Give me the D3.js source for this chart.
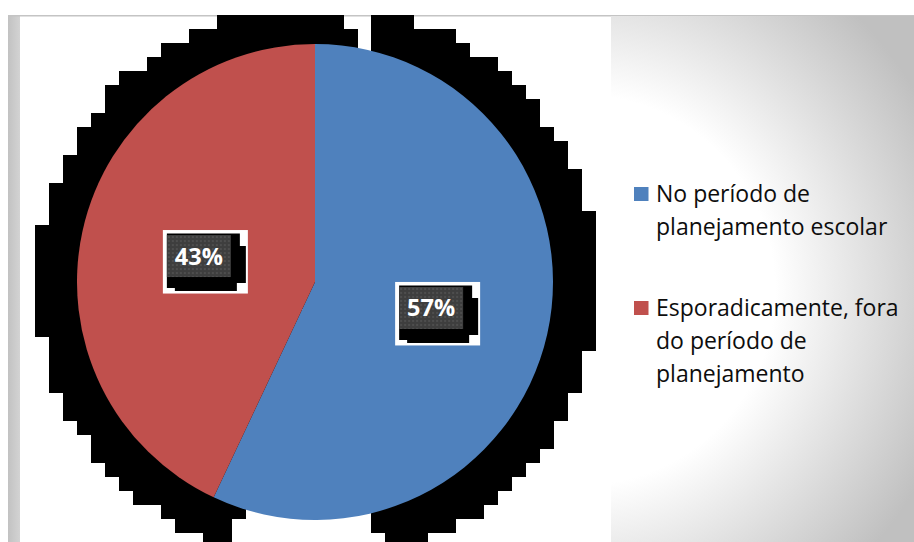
<!DOCTYPE html>
<html>
<head>
<meta charset="utf-8">
<script src="https://cdn.jsdelivr.net/npm/d3@7"></script>
<style>
  html, body { margin: 0; padding: 0; background: #ffffff; }
  svg { display: block; }
</style>
</head>
<body>
<div id="chart"></div>
<script>
// Pie data
const categories = ["No período de planejamento escolar", "Esporadicamente, fora do período de planejamento"];
const values = [57, 43];
const sliceColors = ["#4F81BD", "#C0504D"];
const legendLines = [["No período de", "planejamento escolar"], ["Esporadicamente, fora", "do período de", "planejamento"]];

// Blocky drop shadow: angular gaps (degrees clockwise from 12 o'clock)
const shadowGaps = [
  { from: 9, to: 13, minR: 0 },
  { from: 7, to: 9, minR: 255 },
  { from: 166, to: 198, minR: 0 }
];

const W = 914, H = 542;
const cx = 315, cy = 282, radius = 238;

const svg = d3.select("#chart").append("svg")
  .attr("width", W).attr("height", H);

const defs = svg.append("defs");

const panelGrad = defs.append("radialGradient")
  .attr("id", "panelGrad").attr("gradientUnits", "userSpaceOnUse")
  .attr("cx", 580).attr("cy", 290).attr("r", 390);
panelGrad.append("stop").attr("offset", 0).attr("stop-color", "#ffffff");
panelGrad.append("stop").attr("offset", 0.5).attr("stop-color", "#ffffff");
panelGrad.append("stop").attr("offset", 1).attr("stop-color", "#c0c0c0");

const stripGrad = defs.append("linearGradient")
  .attr("id", "stripGrad").attr("x1", 0).attr("x2", 1).attr("y1", 0).attr("y2", 0);
stripGrad.append("stop").attr("offset", 0).attr("stop-color", "#c2c2c2");
stripGrad.append("stop").attr("offset", 1).attr("stop-color", "#d3d3d3");

const dots = defs.append("pattern")
  .attr("id", "dots").attr("patternUnits", "userSpaceOnUse")
  .attr("width", 4).attr("height", 4);
dots.append("rect").attr("width", 4).attr("height", 4).attr("fill", "#3e3e3e");
dots.append("rect").attr("x", 1).attr("y", 1).attr("width", 2).attr("height", 2).attr("fill", "#4e4e4e");

defs.append("clipPath").attr("id", "plotClip")
  .append("rect").attr("x", 20).attr("y", 15).attr("width", 591).attr("height", H - 15);

// Frame pieces
svg.append("rect").attr("x", 8).attr("y", 15).attr("width", 12).attr("height", H - 15)
  .attr("fill", "url(#stripGrad)");
svg.append("rect").attr("x", 8).attr("y", 15).attr("width", W - 8).attr("height", 1.5)
  .attr("fill", "#c4c4c4");
svg.append("rect").attr("x", 611).attr("y", 16).attr("width", W - 611).attr("height", H - 16)
  .attr("fill", "url(#panelGrad)");

// Shadow built from square cells on a coarse grid
const cell = 14, gx0 = 7, gy0 = 0.5, shadowR = 280, scx = 316, scy = 282;
const cells = [];
for (let i = 0; i < 45; i++) {
  for (let j = 0; j < 40; j++) {
    const x = gx0 + i * cell, y = gy0 + j * cell;
    const dx = x + cell / 2 - scx, dy = y + cell / 2 - scy;
    const d = Math.hypot(dx, dy);
    if (d > shadowR) continue;
    let ang = Math.atan2(dx, -dy) * 180 / Math.PI;
    if (ang < 0) ang += 360;
    const inGap = shadowGaps.some(g => ang >= g.from && ang <= g.to && d >= g.minR);
    if (!inGap) cells.push({ x, y });
  }
}
svg.append("g").attr("clip-path", "url(#plotClip)")
  .selectAll("rect").data(cells).join("rect")
  .attr("x", d => d.x).attr("y", d => d.y)
  .attr("width", cell + 0.5).attr("height", cell + 0.5)
  .attr("fill", "#000").attr("shape-rendering", "crispEdges");

// Pie
const pie = d3.pie().sort(null).value(d => d.value).startAngle(0).endAngle(2 * Math.PI);
const arcs = pie(values.map((v, i) => ({ value: v, name: categories[i], color: sliceColors[i] })));
const arc = d3.arc().innerRadius(0).outerRadius(radius);
const total = d3.sum(values);

const pieG = svg.append("g").attr("transform", `translate(${cx},${cy})`);
pieG.selectAll("path").data(arcs).join("path")
  .attr("d", arc)
  .attr("fill", d => d.data.color);

// Data labels
const boxW = 64, boxH = 42;
const labels = pieG.selectAll("g.lbl").data(arcs).join("g").attr("class", "lbl")
  .attr("transform", d => {
    const [x, y] = arc.centroid(d);
    return `translate(${x - boxW / 2},${y - boxH / 2})`;
  });
labels.append("rect")
  .attr("x", -4).attr("y", -5).attr("width", 85).attr("height", 63.5)
  .attr("fill", "#ffffff");
labels.append("path")
  .attr("d", "M0,-1.5H73V11H79V48H70V56H8V53H0Z")
  .attr("fill", "#000");
labels.append("rect")
  .attr("width", boxW).attr("height", boxH)
  .attr("fill", "url(#dots)");
labels.append("text")
  .attr("x", boxW / 2).attr("y", boxH / 2 + 8.5)
  .attr("text-anchor", "middle")
  .attr("font-family", "'Open Sans', sans-serif")
  .attr("font-weight", "bold")
  .attr("font-size", 23.5)
  .attr("fill", "#ffffff")
  .text(d => Math.round(d.data.value / total * 100) + "%");

// Legend
const legend = svg.append("g");
const lineH = 33, entryGap = 48;
let ly = 201.5;
legendLines.forEach((lines, i) => {
  const g = legend.append("g");
  g.append("rect").attr("x", 634).attr("y", ly - 14.5).attr("width", 14.5).attr("height", 14)
    .attr("fill", sliceColors[i]);
  const t = g.append("text")
    .attr("font-family", "'Open Sans', sans-serif")
    .attr("font-size", 23)
    .attr("fill", "#0d0d0d");
  lines.forEach((ln, k) => {
    t.append("tspan").attr("x", 656).attr("y", ly + k * lineH).text(ln);
  });
  ly += lines.length * lineH + entryGap;
});
</script>
</body>
</html>
